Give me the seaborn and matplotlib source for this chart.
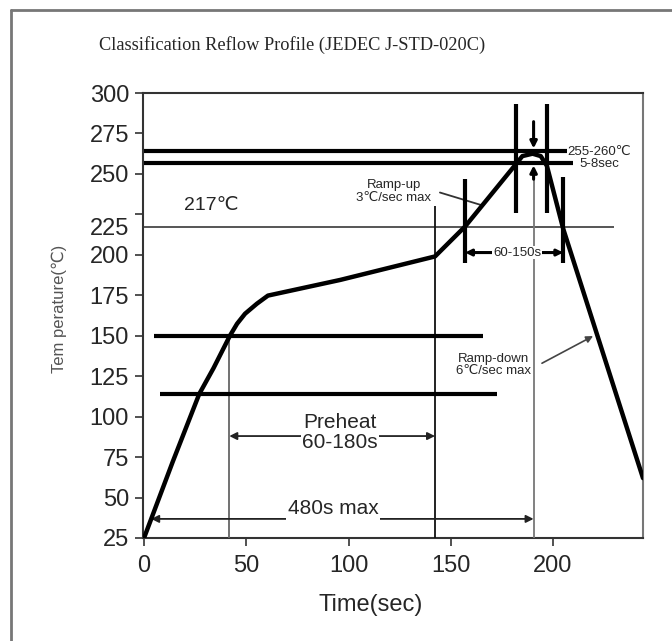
import seaborn as sns
import matplotlib.pyplot as plt
import pandas as pd
from matplotlib.transforms import ScaledTranslation
from matplotlib.lines import Line2D

# Perfil de soldadura
tiempo = [0, 14, 27, 34, 42, 45.5, 49.4, 55.2, 60.6, 96, 142.3, 157, 181.5, 185, 190, 194, 197, 205, 244]
temperatura = [25, 72, 114, 130, 150, 157.4, 163.6, 169.8, 174.8, 184.5, 199, 217.5, 255.5, 261, 262.5, 261, 255, 216, 62]

# Líneas horizontales gruesas
h_y = [264, 257, 150, 114]
h_x0 = [0, 0, 5, 8]
h_x1 = [207, 210, 166, 172.5]

# Línea de 217 ℃
linea_217 = 217.5
fin_217 = 230

# Líneas verticales finas
v_x = [41.7, 142.3, 190.5]
v_top = [151, 230, 246]
v_colores = ['#666666', '#111111', '#777777']

# Marcas verticales gruesas
m_x = [182, 197, 157, 205]
m_y0 = [226, 226, 195, 195]
m_y1 = [293, 293, 247, 248]

x_ticks = [0, 50, 100, 150, 200]
y_ticks = [25, 50, 75, 100, 125, 150, 175, 200, 225, 250, 275, 300]

sns.set_style('ticks')
plt.rcParams['font.family'] = ['Liberation Sans', 'DejaVu Sans']

fig = plt.figure(figsize=(6.72, 6.41), dpi=100)
ax = fig.add_axes([143 / 672, 103 / 641, 500 / 672, 445 / 641])

df = pd.DataFrame({'t': tiempo, 'temp': temperatura})
sns.lineplot(data=df, x='t', y='temp', ax=ax, color='black', linewidth=3.2,
             sort=False, solid_joinstyle='round', zorder=5)

ax.hlines(h_y, h_x0, h_x1, colors='black', linewidth=3, zorder=4)
ax.hlines(linea_217, 0, fin_217, colors='#555555', linewidth=1.4, zorder=3)
ax.vlines(v_x, 25, v_top, colors=v_colores, linewidth=1.3, zorder=3)
ax.vlines(m_x, m_y0, m_y1, colors='black', linewidth=3, zorder=4)

# flechas de rango 255-260
flecha = dict(arrowstyle='-|>', lw=2.2, color='black', mutation_scale=10)
ax.annotate('', xy=(190.5, 264), xytext=(190.5, 284), arrowprops=flecha, zorder=6)
ax.annotate('', xy=(190.5, 257), xytext=(190.5, 245), arrowprops=flecha, zorder=6)

doble = dict(arrowstyle='<|-|>', lw=1.3, color='#222222', mutation_scale=11,
             shrinkA=0, shrinkB=0)
ax.annotate('', xy=(41.7, 88), xytext=(142.3, 88), arrowprops=doble)
ax.annotate('', xy=(3.5, 36.8), xytext=(190.5, 36.8), arrowprops=doble)
ax.annotate('', xy=(157, 201.4), xytext=(205, 201.4),
            arrowprops=dict(doble, lw=2.2, color='black', mutation_scale=9))

# líneas guía
ax.add_line(Line2D([144.7, 165.8], [238.5, 230.4], color='#333333', lw=1.3))
ax.annotate('', xy=(219.6, 149.8), xytext=(194.6, 133),
            arrowprops=dict(arrowstyle='-|>', lw=1.2, color='#444444',
                            mutation_scale=10, shrinkA=0, shrinkB=0))

fondo = dict(facecolor='white', edgecolor='none', pad=1)
ax.text(95.8, 90, 'Preheat\n60-180s', ha='center', va='center', fontsize=15,
        linespacing=1.05, bbox=fondo, zorder=7)
ax.text(92.4, 43, '480s max', ha='center', va='center', fontsize=15,
        bbox=fondo, zorder=7)
ax.text(33, 230.5, '217℃', ha='center', va='center', fontsize=14)
ax.text(122.2, 239, 'Ramp-up\n3℃/sec max', ha='center', va='center',
        fontsize=9.5, linespacing=1.05)
ax.text(182.4, 201.4, '60-150s', ha='center', va='center', fontsize=9.5,
        bbox=dict(fondo, pad=0.5), zorder=7)
ax.text(222.5, 260, '255-260℃\n5-8sec', ha='center', va='center',
        fontsize=9.5, linespacing=1.0, zorder=7)
ax.text(171, 131.8, 'Ramp-down\n6℃/sec max', ha='center', va='center',
        fontsize=9.5, linespacing=1.05)

ax.set_xlim(-0.5, 244)
ax.set_ylim(25, 300)
ax.set_xticks(x_ticks)
ax.set_yticks(y_ticks)
ax.tick_params(axis='both', direction='out', length=6, width=1.2,
               labelsize=17, pad=4, color='#333333')
ax.tick_params(axis='x', pad=6)
for s in ax.spines.values():
    s.set_visible(True)
    s.set_linewidth(1.5)
    s.set_color('#333333')
ax.spines['right'].set_color('#777777')

# la etiqueta 225 está desplazada hacia abajo en el original
for lab in ax.get_yticklabels():
    if lab.get_text() == '225':
        lab.set_transform(lab.get_transform() + ScaledTranslation(0, -12 / 100, fig.dpi_scale_trans))

ax.set_xlabel('Time(sec)', fontsize=17)
ax.xaxis.set_label_coords(0.456, -0.125)
ax.set_ylabel('Tem perature(℃)', fontsize=12, color='#555555')
ax.yaxis.set_label_coords(-0.152, 0.515)

fig.text(292 / 672, 1 - 45 / 641, 'Classification Reflow Profile (JEDEC J-STD-020C)',
         ha='center', va='center', fontsize=13.2, family='Liberation Serif')

# marco exterior
fig.add_artist(Line2D([11 / 672, 11 / 672], [0, 1 - 10 / 641], transform=fig.transFigure,
                      color='#777777', lw=2))
fig.add_artist(Line2D([11 / 672, 1], [1 - 10 / 641, 1 - 10 / 641], transform=fig.transFigure,
                      color='#777777', lw=2))

fig.savefig('out.png', dpi=100)
